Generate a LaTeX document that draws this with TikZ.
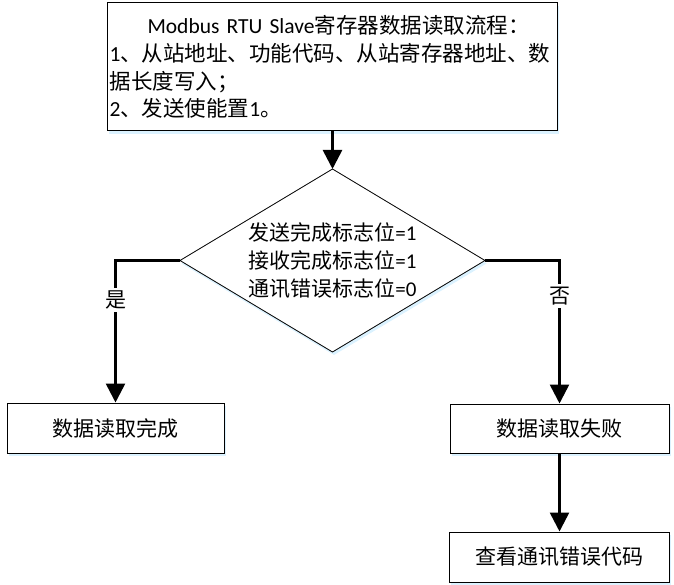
\documentclass[tikz,border=0pt]{standalone}
\usepackage{fontspec}
\setmainfont{Carlito}
\newfontfamily\cjk{Noto Sans CJK SC}
\usetikzlibrary{arrows.meta,shadows}
\begin{document}
\begin{tikzpicture}[x=1pt,y=-1pt,
  softshadow/.style={drop shadow={shadow xshift=1.5pt, shadow yshift=-3pt, fill=blue!35!cyan!40, opacity=0.35}},
  box/.style={draw, line width=1pt, fill=white, inner sep=0pt, softshadow, font=\fontsize{21}{28}\selectfont},
  txt/.style={inner sep=0pt, font=\fontsize{21}{28}\selectfont},
  conn/.style={line width=2.6pt, -{Triangle[length=19pt,width=19pt]}},
  lab/.style={fill=white, inner xsep=0pt, inner ysep=3pt, font=\fontsize{21}{28}\selectfont}]
\useasboundingbox (0,0) rectangle (674,585);

% top box
\node[box, minimum width=450pt, minimum height=128pt, text width=446pt, align=left,
      font=\fontsize{21.5}{27.7}\selectfont] (top) at (332.5,67)
  {\hspace*{38pt}Modbus RTU Slave{\cjk 寄存器数据读取流程：}\\
   1{\cjk 、从站地址、功能代码、从站寄存器地址、数}\\
   {\cjk 据长度写入；}\\
   2{\cjk 、发送使能置}1{\cjk 。}};

% decision
\coordinate (dt) at (332.5,169);
\coordinate (dr) at (485,260.5);
\coordinate (db) at (332.5,352);
\coordinate (dl) at (180,260.5);
\draw[line width=0.8pt, fill=white, softshadow] (dt) -- (dr) -- (db) -- (dl) -- cycle;
\node[txt, align=left] (cond) at (332.5,260.5)
  {{\cjk 发送完成标志位}=1\\{\cjk 接收完成标志位}=1\\{\cjk 通讯错误标志位}=0};

% result boxes
\node[box, minimum width=217pt, minimum height=50pt] (lbox) at (115.5,428) {\cjk 数据读取完成};
\node[box, minimum width=219pt, minimum height=49pt] (rbox) at (559.5,428.5) {\cjk 数据读取失败};
\node[box, minimum width=220pt, minimum height=50pt] (bbox) at (559.5,557) {\cjk 查看通讯错误代码};

% connectors
\draw[conn] (top.south) -- (dt);
\draw[conn] (dl) -| (lbox.north);
\draw[conn] (dr) -| (rbox.north);
\draw[conn] (rbox.south) -- (bbox.north);

% labels
\node[lab] (yes) at (115.5,300) {\cjk 是};
\node[lab] (no) at (559.5,296) {\cjk 否};
\end{tikzpicture}
\end{document}
